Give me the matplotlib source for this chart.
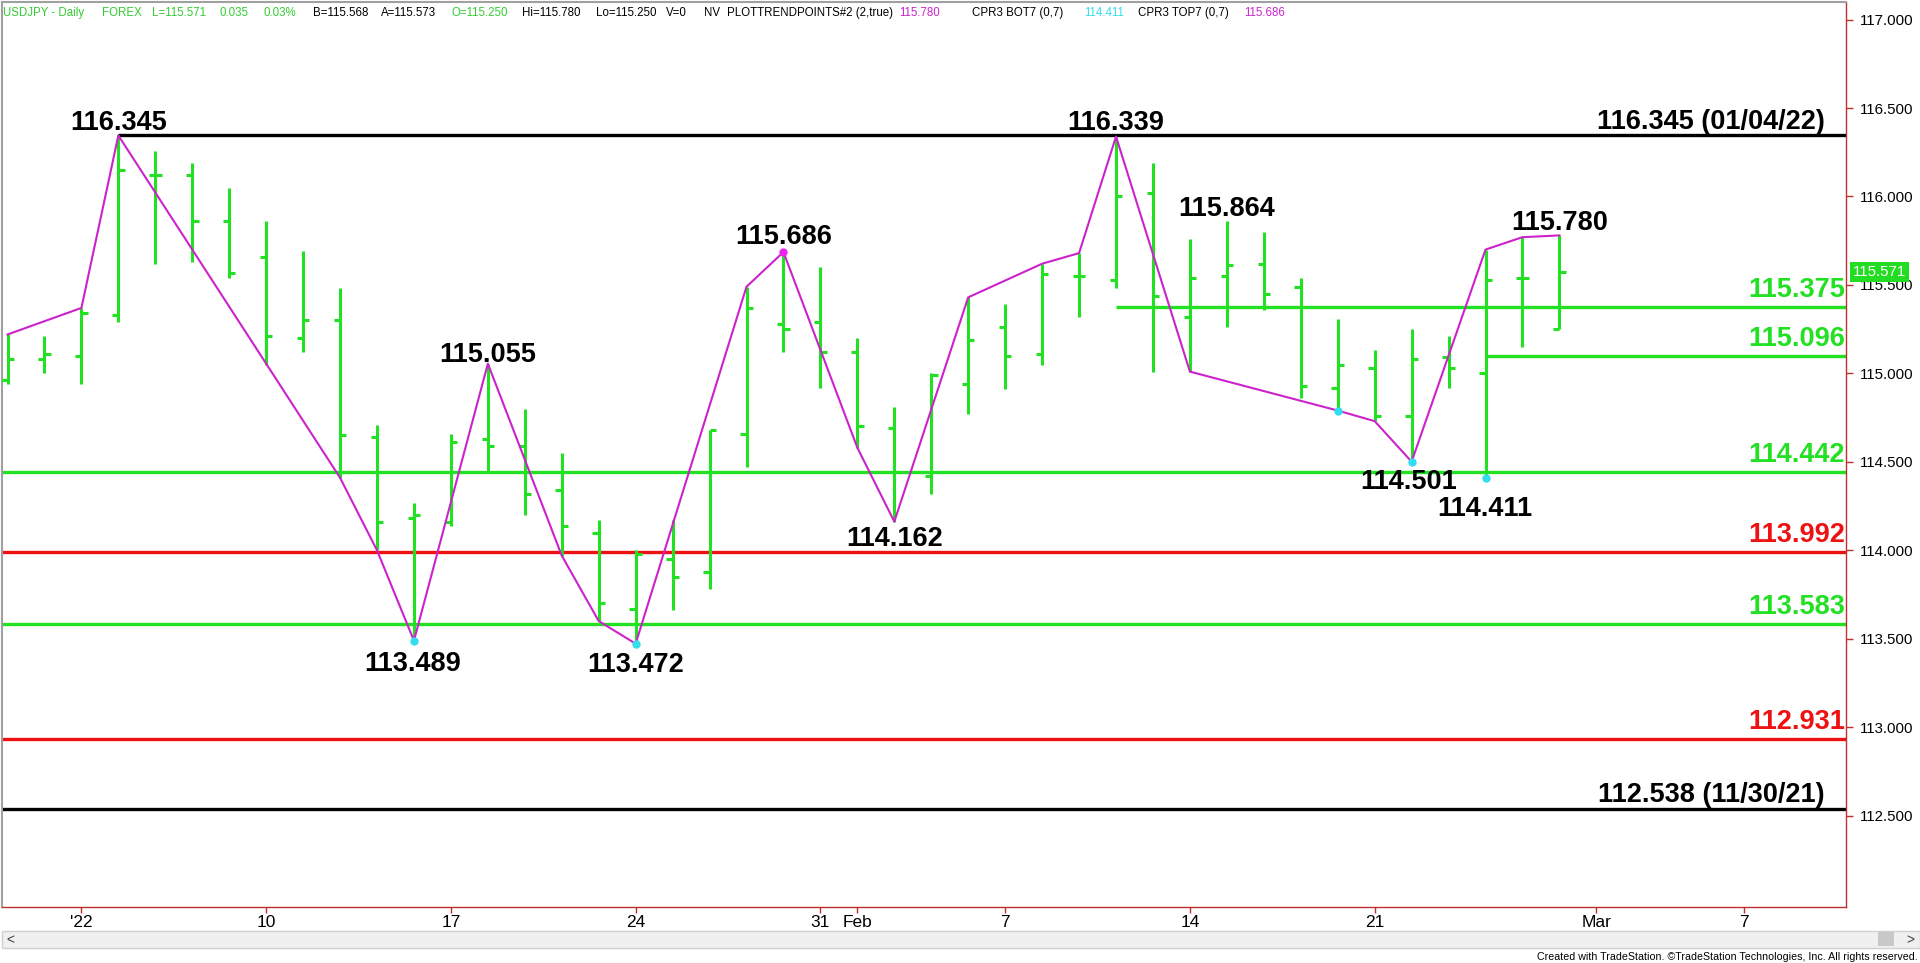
import numpy as np
import pandas as pd
import matplotlib
matplotlib.use("Agg")
import matplotlib.pyplot as plt
from matplotlib import font_manager
from matplotlib.patches import Rectangle

W, H = 1920, 963

# daily bars USDJPY, Dec 30 2021 .. Feb 28 2022
dates = pd.bdate_range("2021-12-30", "2022-02-28")
opens = [114.96, 115.08, 115.10, 115.33, 116.12, 116.12, 115.86, 115.66, 115.20, 115.30,
         114.64, 114.18, 114.16, 114.63, 114.59, 114.34, 114.10, 113.67, 113.95, 113.88,
         114.66, 115.28, 115.29, 115.12, 114.69, 114.42, 114.94, 115.26, 115.11, 115.55,
         115.53, 116.02, 115.32, 115.55, 115.62, 115.49, 114.92, 115.03, 114.76, 115.09,
         115.00, 115.54, 115.250]
highs = [115.22, 115.21, 115.37, 116.345, 116.26, 116.19, 116.05, 115.86, 115.69, 115.48,
         114.71, 114.27, 114.66, 115.055, 114.80, 114.55, 114.17, 114.00, 114.17, 114.68,
         115.49, 115.686, 115.60, 115.20, 114.81, 115.00, 115.43, 115.39, 115.62, 115.68,
         116.339, 116.19, 115.76, 115.864, 115.80, 115.54, 115.31, 115.13, 115.25, 115.21,
         115.70, 115.77, 115.780]
lows = [114.94, 115.00, 114.94, 115.29, 115.62, 115.63, 115.54, 115.05, 115.12, 114.41,
        114.00, 113.489, 114.14, 114.45, 114.20, 113.97, 113.60, 113.472, 113.66, 113.78,
        114.47, 115.12, 114.92, 114.58, 114.162, 114.32, 114.77, 114.91, 115.05, 115.32,
        115.48, 115.01, 115.01, 115.26, 115.36, 114.86, 114.79, 114.73, 114.501, 114.92,
        114.411, 115.15, 115.250]
closes = [115.08, 115.11, 115.34, 116.15, 116.12, 115.86, 115.57, 115.21, 115.30, 114.65,
          114.16, 114.20, 114.61, 114.59, 114.32, 114.14, 113.70, 113.98, 113.85, 114.68,
          115.37, 115.25, 115.12, 114.70, 114.44, 114.99, 115.19, 115.10, 115.56, 115.55,
          116.00, 115.44, 115.54, 115.61, 115.45, 114.93, 115.05, 114.76, 115.08, 115.03,
          115.53, 115.54, 115.571]

# PLOTTRENDPOINTS zig-zag
trend_dates = ["2021-12-30", "2022-01-03", "2022-01-04", "2022-01-12", "2022-01-13",
               "2022-01-14", "2022-01-18", "2022-01-20", "2022-01-21", "2022-01-24",
               "2022-01-27", "2022-01-28", "2022-02-01", "2022-02-02", "2022-02-04",
               "2022-02-08", "2022-02-09", "2022-02-10", "2022-02-14", "2022-02-18",
               "2022-02-21", "2022-02-22", "2022-02-24", "2022-02-25", "2022-02-28"]
trend_prices = [115.22, 115.37, 116.345, 114.41, 114.00, 113.489, 115.055, 113.97, 113.60,
                113.472, 115.49, 115.686, 114.58, 114.162, 115.43, 115.62, 115.68, 116.339,
                115.01, 114.79, 114.73, 114.501, 115.70, 115.77, 115.780]

# labelled swing points
pivot_dates = ["2022-01-04", "2022-01-14", "2022-01-18", "2022-01-24", "2022-01-28",
               "2022-02-02", "2022-02-10", "2022-02-15", "2022-02-22", "2022-02-24",
               "2022-02-28"]
pivot_prices = [116.345, 113.489, 115.055, 113.472, 115.686, 114.162, 116.339, 115.864,
                114.501, 114.411, 115.780]

cyan_dates = ["2022-01-14", "2022-01-24", "2022-02-18", "2022-02-22", "2022-02-24"]
magenta_dates = ["2022-01-28"]

# support / resistance levels
level_prices = [116.345, 115.375, 115.096, 114.442, 113.992, 113.583, 112.931, 112.538]
level_labels = ["116.345 (01/04/22)", "115.375", "115.096", "114.442", "113.992",
                "113.583", "112.931", "112.538 (11/30/21)"]
level_kind = ["black", "green", "green", "green", "red", "green", "red", "black"]
level_start = ["2022-01-04", "2022-02-10", "2022-02-24", None, None, None, None, None]

tick_dates = ["2022-01-03", "2022-01-10", "2022-01-17", "2022-01-24", "2022-01-31",
              "2022-02-01", "2022-02-07", "2022-02-14", "2022-02-21", "2022-03-01",
              "2022-03-07"]
tick_labels = ["'22", "10", "17", "24", "31", "Feb", "7", "14", "21", "Mar", "7"]

last_price = 115.571

# ---------------------------------------------------------------
names = {f.name for f in font_manager.fontManager.ttflist}
narrow = "Liberation Sans Narrow" if "Liberation Sans Narrow" in names else "Liberation Sans"
plt.rcParams["font.family"] = ["Liberation Sans", "DejaVu Sans"]

GREEN = "#22e022"
RED = "#ee1111"
BLACK = "#000000"
PURPLE = "#cc22cc"
CYAN = "#33ddee"
AXRED = "#c03030"
colors = {"green": GREEN, "red": RED, "black": BLACK}

cal = pd.bdate_range("2021-12-30", "2022-03-11")
def pos(d):
    return cal.get_loc(pd.Timestamp(d))

PX = 72 / 100  # points per pixel
BIG = 19.5

fig = plt.figure(figsize=(W / 100, H / 100), dpi=100)
ax = fig.add_axes([2 / W, (H - 907) / H, (1846 - 2) / W, (907 - 2) / H])
ax.set_xlim(-0.149, 49.756)
ax.set_ylim(111.9835, 117.0995)

x = np.arange(len(dates))
tl = 0.17
ax.vlines(x, lows, highs, color=GREEN, lw=2.2, zorder=3)
ax.hlines(opens, x - tl, x, color=GREEN, lw=2.2, zorder=3)
ax.hlines(closes, x, x + tl, color=GREEN, lw=2.2, zorder=3)

# levels
for p, lab, k, s in zip(level_prices, level_labels, level_kind, level_start):
    x0 = pos(s) if s else -1
    ax.hlines(p, x0, 60, color=colors[k], lw=2.4, zorder=2)
    if k == "black":
        dx, dy = -21, 6.5
    else:
        dx, dy = -1, 10
    ax.annotate(lab, xy=(1, p), xycoords=("axes fraction", "data"),
                xytext=(dx * PX, dy * PX), textcoords="offset points",
                ha="right", va="baseline", fontsize=BIG, fontweight="bold",
                color=colors[k], zorder=6)

# zig-zag
ax.plot([pos(d) for d in trend_dates], trend_prices, color=PURPLE, lw=1.5, zorder=4)

# dots
for d in cyan_dates:
    i = pos(d)
    ax.plot(i, lows[i], "o", ms=6, color=CYAN, mec="none", zorder=5)
for d in magenta_dates:
    i = pos(d)
    ax.plot(i, highs[i], "o", ms=6, color="#ee22ee", mec="none", zorder=5)

# swing labels (offsets in pixels)
offs = [(0, 15.7), (-1, -20.8), (0, 11.5), (0, -18.3), (0, 18), (0, -14.2),
        (0, 16.8), (0, 14.8), (-3, -17.5), (-1, -28.9), (0, 15.6)]
for d, p, (dx, dy) in zip(pivot_dates, pivot_prices, offs):
    ax.annotate(f"{p:.3f}", xy=(pos(d), p), xytext=(dx * PX, dy * PX),
                textcoords="offset points", ha="center", va="center_baseline",
                fontsize=BIG, fontweight="bold", color=BLACK, zorder=6)

# axes styling
ax.yaxis.tick_right()
ax.set_yticks(np.arange(112.5, 117.01, 0.5))
ax.yaxis.set_major_formatter(matplotlib.ticker.FormatStrFormatter("%.3f"))
ax.set_xticks([pos(d) for d in tick_dates])
ax.set_xticklabels(tick_labels, family=narrow)
ax.tick_params(axis="y", direction="out", length=5, width=1, color=AXRED,
               labelcolor="black", labelsize=10.8, pad=5)
ax.tick_params(axis="x", direction="out", length=4, width=1, color=AXRED,
               labelcolor="black", labelsize=12.5, pad=2)
for side in ("left", "top"):
    ax.spines[side].set_color("#a0a0a0")
    ax.spines[side].set_linewidth(1.5)
for side in ("right", "bottom"):
    ax.spines[side].set_color(AXRED)
    ax.spines[side].set_linewidth(1)

# last price marker
ax.annotate(f"{last_price:.3f}", xy=(1, last_price), xycoords=("axes fraction", "data"),
            xytext=(7 * PX, 0), textcoords="offset points", ha="left", va="center",
            fontsize=10.8, color="white", zorder=10, annotation_clip=False,
            bbox=dict(boxstyle="square,pad=0.2", fc="#22dd22", ec="none"))

# header
HG = "#33cc33"
header = [(3, "USDJPY - Daily", HG), (102, "FOREX", HG), (152, "L=115.571", HG),
          (220, "0.035", HG), (263, "0.03%", HG), (313, "B=115.568", BLACK),
          (381, "A=115.573", BLACK), (452, "O=115.250", HG), (522, "Hi=115.780", BLACK),
          (596, "Lo=115.250", BLACK), (666, "V=0", BLACK), (704, "NV", BLACK),
          (727, "PLOTTRENDPOINTS#2 (2,true)", BLACK), (899, "115.780", PURPLE),
          (972, "CPR3 BOT7 (0,7)", BLACK), (1084, "114.411", CYAN),
          (1138, "CPR3 TOP7 (0,7)", BLACK), (1244, "115.686", PURPLE)]
for hx, txt, c in header:
    fig.text(hx / W, 1 - 16 / H, txt, color=c, fontsize=8.3, family=narrow,
             ha="left", va="baseline")

# scrollbar + footer
fig.add_artist(Rectangle((2 / W, 1 - 948 / H), (W - 2) / W, 17 / H,
                         transform=fig.transFigure, fc="#f0f0f0", ec="#d0d0d0", lw=1))
fig.add_artist(Rectangle((1878 / W, 1 - 946 / H), 16 / W, 14 / H,
                         transform=fig.transFigure, fc="#c8c8c8", ec="none"))
fig.text(6 / W, 1 - 940 / H, "<", fontsize=10, color="#404040", va="center")
fig.text(1906 / W, 1 - 940 / H, ">", fontsize=10, color="#404040", va="center")
fig.text(1918 / W, 1 - 957 / H,
         "Created with TradeStation. \u00a9TradeStation Technologies, Inc. All rights reserved.",
         fontsize=7.7, family=narrow, ha="right", va="center", color="black")

fig.savefig("out.png", dpi=100)
